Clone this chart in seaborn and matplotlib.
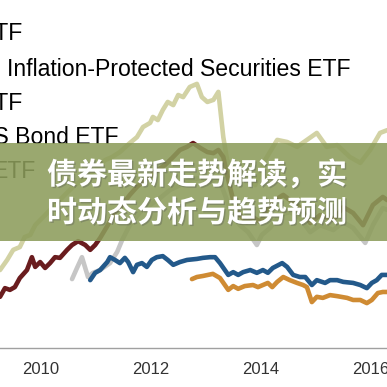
import numpy as np
import pandas as pd
import matplotlib
matplotlib.use("Agg")
import matplotlib.pyplot as plt
import matplotlib.patheffects as pe
import seaborn as sns

# values (x in fractional years, y on a hidden 0-100 index scale)
tips_yr = [2009.26, 2009.39, 2009.50, 2009.62, 2009.71, 2009.81, 2009.90, 2010.08, 2010.26, 2010.44,
           2010.62, 2010.81, 2010.99, 2011.17, 2011.30, 2011.44, 2011.62, 2011.75, 2011.86, 2011.99,
           2012.04, 2012.13, 2012.22, 2012.31, 2012.41, 2012.50, 2012.59, 2012.71, 2012.84, 2012.93,
           2013.03, 2013.14, 2013.23, 2013.32, 2013.39, 2013.50, 2013.62, 2013.77, 2013.90, 2014.08,
           2014.30, 2014.48, 2014.66, 2014.84, 2015.02, 2015.20, 2015.39, 2015.62, 2015.81, 2015.99,
           2016.17, 2016.30]
tips_val = [22.4, 25.3, 28.2, 29.0, 31.9, 32.5, 35.3, 38.2, 41.1, 44.0,
            46.8, 48.9, 51.1, 54.0, 54.9, 56.3, 58.9, 60.6, 63.5, 64.7,
            66.4, 65.5, 68.4, 70.7, 69.8, 72.7, 72.1, 75.0, 75.9, 72.1,
            70.7, 71.3, 73.6, 60.6, 54.0, 49.7, 48.3, 50.6, 46.8, 54.0,
            59.8, 59.2, 57.8, 59.8, 61.8, 57.8, 58.3, 54.9, 53.2, 56.9,
            61.8, 62.6]

maroon_yr = [2009.26, 2009.35, 2009.44, 2009.53, 2009.62, 2009.75, 2009.84, 2009.90, 2009.99, 2010.08,
             2010.17, 2010.26, 2010.35, 2010.48, 2010.57, 2010.68, 2010.81, 2010.90, 2010.99, 2011.08,
             2011.22, 2011.35, 2011.48, 2011.62, 2011.75, 2011.90, 2012.08, 2012.26, 2012.39, 2012.53,
             2012.66, 2012.77, 2012.90, 2013.03, 2013.14, 2013.23, 2013.32, 2013.41, 2013.50, 2013.62,
             2013.75, 2013.86, 2013.99, 2014.12, 2014.26, 2014.41, 2014.53, 2014.71, 2014.90, 2015.08,
             2015.32, 2015.50, 2015.68, 2015.86, 2016.04, 2016.22, 2016.30]
maroon_val = [14.7, 17.2, 16.7, 17.5, 20.1, 22.4, 26.1, 23.3, 24.7, 23.0,
              24.4, 26.1, 25.9, 28.2, 29.6, 30.7, 29.6, 28.2, 29.6, 31.6,
              35.3, 39.1, 41.1, 44.0, 46.3, 48.3, 50.6, 52.6, 54.6, 56.9,
              57.8, 58.9, 57.5, 56.3, 56.0, 56.9, 54.9, 48.3, 42.5, 38.2,
              36.2, 37.6, 36.2, 39.7, 42.5, 44.0, 42.5, 40.5, 35.9, 38.2,
              36.8, 40.5, 38.8, 35.3, 41.1, 43.4, 42.5]

gray_yr = [2010.57, 2010.66, 2010.75, 2010.86, 2010.95, 2011.08, 2011.26, 2011.39, 2011.48, 2011.62,
           2011.81, 2011.99, 2012.17, 2012.35, 2012.53, 2012.71, 2012.90, 2013.08, 2013.23, 2013.35,
           2013.48, 2013.62, 2013.77, 2013.93, 2014.02, 2014.17, 2014.35, 2014.53, 2014.71, 2014.90,
           2015.08, 2015.32, 2015.50, 2015.68, 2015.90, 2016.04, 2016.22, 2016.30]
gray_val = [19.8, 23.0, 26.1, 20.4, 21.6, 22.4, 24.4, 27.6, 31.0, 35.3,
            39.1, 41.1, 43.1, 45.4, 46.8, 48.3, 48.9, 47.7, 48.9, 44.0,
            38.2, 35.3, 33.3, 29.6, 32.5, 34.5, 38.2, 39.1, 37.4, 33.3,
            35.3, 33.9, 36.2, 34.5, 30.2, 35.3, 40.2, 39.7]

blue_yr = [2010.90, 2010.99, 2011.08, 2011.21, 2011.26, 2011.35, 2011.44, 2011.53, 2011.59, 2011.68,
           2011.75, 2011.84, 2011.93, 2012.02, 2012.11, 2012.22, 2012.31, 2012.41, 2012.53, 2012.66,
           2012.84, 2012.95, 2013.08, 2013.17, 2013.26, 2013.41, 2013.50, 2013.59, 2013.68, 2013.81,
           2013.93, 2014.04, 2014.13, 2014.22, 2014.39, 2014.48, 2014.59, 2014.71, 2014.81, 2014.93,
           2015.02, 2015.17, 2015.26, 2015.39, 2015.50, 2015.68, 2015.81, 2015.93, 2016.02, 2016.11,
           2016.20, 2016.30]
blue_val = [19.5, 21.6, 22.4, 24.7, 26.1, 25.3, 24.4, 25.9, 24.7, 21.8,
            23.9, 24.4, 23.3, 25.3, 26.1, 26.4, 25.3, 23.9, 24.7, 25.3,
            25.6, 25.9, 26.1, 26.1, 24.4, 21.0, 21.8, 21.0, 21.8, 22.4,
            21.6, 22.4, 21.6, 23.0, 24.4, 23.3, 21.0, 20.4, 20.4, 18.1,
            19.5, 18.7, 19.5, 19.5, 19.0, 18.7, 18.1, 17.2, 18.7, 19.5,
            21.0, 21.0]

orange_yr = [2012.75, 2012.84, 2012.95, 2013.13, 2013.26, 2013.41, 2013.50, 2013.59, 2013.71, 2013.86,
             2013.95, 2014.04, 2014.13, 2014.21, 2014.30, 2014.41, 2014.53, 2014.66, 2014.77, 2014.84,
             2014.93, 2015.02, 2015.13, 2015.26, 2015.39, 2015.57, 2015.68, 2015.81, 2015.93, 2016.02,
             2016.13, 2016.22, 2016.30]
orange_val = [19.8, 20.4, 20.7, 21.3, 20.1, 16.7, 17.8, 17.0, 17.8, 18.1,
              17.5, 18.1, 18.7, 17.5, 19.0, 20.4, 19.5, 18.7, 18.1, 17.5,
              13.2, 14.7, 14.4, 15.2, 14.9, 14.4, 13.8, 13.8, 12.9, 13.8,
              15.8, 16.1, 16.1]

legend_lines = ["ETF", "Inflation-Protected Securities ETF", "ETF", "iShares TIPS Bond ETF", "ETF"]
year_ticks = [2010, 2012, 2014, 2016]
title_lines = ["债券最新走势解读，实", "时动态分析与趋势预测"]

sns.set_style("white")
plt.rcParams['font.family'] = ['Liberation Sans', 'DejaVu Sans']

fig = plt.figure(figsize=(3.87, 3.87), dpi=100)
ax = fig.add_axes([0, 1 - 348 / 387, 1, 348 / 387])

series = [
    (tips_yr, tips_val, "#d2d2a4"),
    (gray_yr, gray_val, "#c6c6c6"),
    (maroon_yr, maroon_val, "#6a1c1e"),
    (orange_yr, orange_val, "#cf8b33"),
    (blue_yr, blue_val, "#23598a"),
]
for xs, ys, col in series:
    sns.lineplot(x=xs, y=ys, color=col, linewidth=3.3, ax=ax, solid_joinstyle="round")

ax.set_xlim(2009.26, 2016.296)
ax.set_ylim(0, 100)
ax.set_xticks(year_ticks)
ax.set_xticklabels([str(y) for y in year_ticks])
ax.set_yticks([])
for s in ["left", "right", "top"]:
    ax.spines[s].set_visible(False)
ax.spines["bottom"].set_color("#a0a0a0")
ax.spines["bottom"].set_linewidth(1.0)
ax.tick_params(axis="x", direction="in", length=4, width=1, color="#a0a0a0",
               pad=10, labelsize=12, labelcolor="#333333")

# legend text, cut off at the left edge
leg_pos = [(22, 33, "right"), (7, 70, "left"), (22, 103, "right"), (118, 138, "right"), (35, 172, "right")]
for txt, (px, py, ha) in zip(legend_lines, leg_pos):
    fig.text(px / 387, 1 - py / 387, txt, ha=ha, va="center", fontsize=16.6, color="black", zorder=1)

# banner
banner = plt.Rectangle((0, 1 - 241 / 387), 1, 98 / 387, transform=fig.transFigure,
                       facecolor="#8c9c5b", alpha=0.88, edgecolor="none", zorder=5)
fig.patches.append(banner)
for i, line in enumerate(title_lines):
    fig.text(47 / 387, 1 - (175 + 38 * i) / 387, line, ha="left", va="center",
             fontsize=21.6, fontweight="bold", color="white", zorder=6,
             family=['Noto Sans CJK SC', 'DejaVu Sans'],
             path_effects=[pe.withSimplePatchShadow(offset=(1, -1), shadow_rgbFace="#555555", alpha=0.35)])

fig.savefig("out.png", dpi=100)
